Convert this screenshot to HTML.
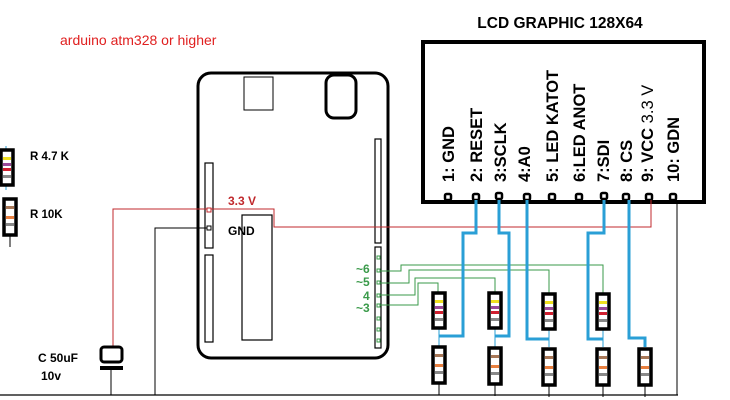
<!DOCTYPE html>
<html><head><meta charset="utf-8"><style>body{margin:0;background:#fff}svg{display:block}</style></head><body>
<svg width="730" height="400" viewBox="0 0 730 400" xmlns="http://www.w3.org/2000/svg" font-family="Liberation Sans, sans-serif">
<rect width="730" height="400" fill="#fff"/>
<text x="60" y="45" font-size="14" fill="#e02020">arduino atm328 or higher</text>
<text x="560" y="28" font-size="15.5" font-weight="bold" text-anchor="middle">LCD GRAPHIC 128X64</text>
<rect x="423" y="42" width="281" height="160" fill="none" stroke="#000" stroke-width="4"/>
<g font-size="16.5" font-weight="bold">
<text transform="translate(454,182) rotate(-90)">1: GND</text>
<text transform="translate(482,182) rotate(-90)">2: RESET</text>
<text transform="translate(506,182) rotate(-90)">3:SCLK</text>
<text transform="translate(530,182) rotate(-90)">4:A0</text>
<text transform="translate(558,182) rotate(-90)">5: LED KATOT</text>
<text transform="translate(585,182) rotate(-90)">6:LED ANOT</text>
<text transform="translate(609,182) rotate(-90)">7:SDI</text>
<text transform="translate(632,182) rotate(-90)">8: CS</text>
<text transform="translate(653,182) rotate(-90)">9: VCC <tspan font-weight="normal">3.3 V</tspan></text>
<text transform="translate(679,182) rotate(-90)">10: GDN</text>
</g>
<g fill="#fff" stroke="#000" stroke-width="2.5">
<rect x="445" y="194" width="6" height="6" rx="1.5"/><rect x="473" y="194" width="6" height="6" rx="1.5"/><rect x="496" y="193" width="6" height="6" rx="1.5"/><rect x="524" y="194" width="6" height="6" rx="1.5"/><rect x="549" y="194" width="6" height="6" rx="1.5"/><rect x="576" y="194" width="6" height="6" rx="1.5"/><rect x="601" y="193" width="6" height="6" rx="1.5"/><rect x="623" y="194" width="6" height="6" rx="1.5"/><rect x="646" y="194" width="6" height="6" rx="1.5"/><rect x="670" y="194" width="6" height="6" rx="1.5"/>
</g>
<rect x="198" y="73" width="190" height="285" rx="13" fill="none" stroke="#000" stroke-width="3"/>
<rect x="244" y="77" width="29" height="33" fill="none" stroke="#000" stroke-width="1"/>
<rect x="326" y="75" width="30" height="43" rx="8" fill="none" stroke="#000" stroke-width="3"/>
<rect x="205" y="163" width="8" height="85" fill="none" stroke="#000" stroke-width="1.2"/>
<rect x="205" y="255" width="8" height="87" fill="none" stroke="#000" stroke-width="1.2"/>
<rect x="242" y="215" width="30" height="125" fill="none" stroke="#000" stroke-width="1.2"/>
<rect x="375" y="139" width="6" height="104" fill="none" stroke="#000" stroke-width="1.2"/>
<rect x="375" y="247" width="6" height="101" fill="none" stroke="#000" stroke-width="1.2"/>
<g fill="none" stroke="#3a9a4a" stroke-width="1">
<rect x="377" y="256" width="3" height="3"/><rect x="377" y="269" width="3" height="3"/><rect x="377" y="281" width="3" height="3"/><rect x="377" y="294" width="3" height="3"/><rect x="377" y="304" width="3" height="3"/><rect x="377" y="317" width="3" height="3"/><rect x="377" y="328" width="3" height="3"/><rect x="377" y="339" width="3" height="3"/>
<polyline points="380,271 401,271 401,265 603,265 603,293"/>
<polyline points="380,283 409,283 409,270 549,270 549,293"/>
<polyline points="380,295 415,295 415,278 495,278 495,292"/>
<polyline points="380,305 418,305 418,283 438,283 438,292"/>
</g>
<g font-size="12" font-weight="bold" fill="#3a9a4a"><text x="356" y="273">~6</text><text x="356" y="286">~5</text><text x="363" y="300">4</text><text x="356" y="312">~3</text></g>
<polyline points="113,347 113,209 274,209 274,227 651,227 651,200" fill="none" stroke="#c0282c" stroke-width="1"/>
<rect x="207" y="208" width="4" height="4" fill="#fff" stroke="#c0282c" stroke-width="1"/>
<text x="228" y="205" font-size="12" font-weight="bold" fill="#c0282c">3.3 V</text>
<polyline points="155,395 155,228 208,228" fill="none" stroke="#000" stroke-width="1"/>
<rect x="207" y="226" width="4" height="4" fill="#fff" stroke="#000" stroke-width="1"/>
<text x="228" y="235" font-size="12" font-weight="bold">GND</text>
<line x1="0" y1="395" x2="678" y2="395" stroke="#000" stroke-width="1.2"/>
<line x1="677" y1="200" x2="677" y2="395" stroke="#000" stroke-width="1"/>
<rect x="101" y="347" width="21" height="15" rx="3" fill="#fff" stroke="#000" stroke-width="3"/>
<rect x="100" y="366" width="23" height="4" fill="#000"/>
<line x1="111" y1="370" x2="111" y2="395" stroke="#000"/>
<text x="38" y="362" font-size="12" font-weight="bold">C 50uF</text>
<text x="41" y="380" font-size="12" font-weight="bold">10v</text>
<g fill="none" stroke="#2a9fd6" stroke-width="3">
<polyline points="476,200 476,233 463,233 463,336 439,336"/>
<polyline points="499,200 499,233 509,233 509,336 495,336"/>
<polyline points="527,200 527,339 549,339"/>
<polyline points="604,200 604,233 588,233 588,339 603,339"/>
<polyline points="629,200 629,338 645,338 645,347"/>
</g>
<g stroke="#2a9fd6" stroke-width="1"><line x1="439" y1="328" x2="439" y2="347"/><line x1="495" y1="328" x2="495" y2="347"/><line x1="549" y1="328" x2="549" y2="347"/><line x1="603" y1="328" x2="603" y2="347"/><line x1="6" y1="146" x2="6" y2="190"/></g>
<defs>
<g id="r47"><rect x="-6" y="0" width="12" height="35" fill="#fff" stroke="#000" stroke-width="3.5"/><rect x="-4" y="7" width="8" height="3" fill="#f0e020"/><rect x="-4" y="13" width="8" height="3" fill="#9a4a9a"/><rect x="-4" y="18" width="8" height="3" fill="#d02030"/><rect x="-4" y="25" width="8" height="3" fill="#888"/></g>
<g id="r10"><rect x="-6" y="0" width="12" height="36" fill="#fff" stroke="#000" stroke-width="3.5"/><rect x="-4" y="7" width="8" height="3" fill="#a87858"/><rect x="-4" y="17" width="8" height="3" fill="#e88040"/><rect x="-4" y="24" width="8" height="3" fill="#888"/><line x1="0" y1="36" x2="0" y2="48" stroke="#000"/></g>
</defs>
<use href="#r47" x="439" y="293"/><use href="#r47" x="495" y="293"/><use href="#r47" x="549" y="294"/><use href="#r47" x="603" y="294"/>
<use href="#r10" x="439" y="347"/><use href="#r10" x="495" y="348"/><use href="#r10" x="549" y="349"/><use href="#r10" x="603" y="349"/><use href="#r10" x="645" y="349"/>
<use href="#r47" x="7" y="150"/><use href="#r10" x="10" y="199"/>
<text x="30" y="160" font-size="11.5" font-weight="bold">R 4.7 K</text>
<text x="30" y="218" font-size="11.5" font-weight="bold">R 10K</text>
</svg>
</body></html>
